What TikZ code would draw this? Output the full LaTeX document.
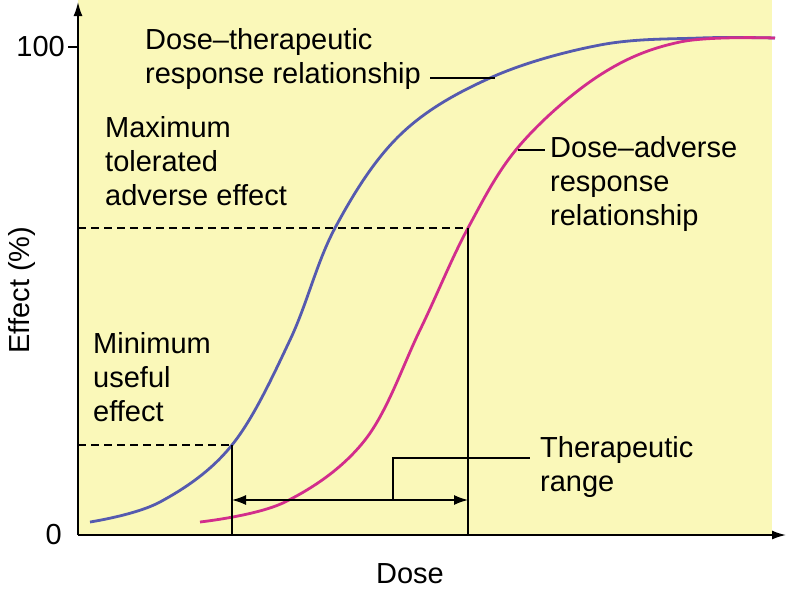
\documentclass[tikz,border=0pt]{standalone}
\usepackage{fontspec}
\setmainfont{Liberation Sans}
\usetikzlibrary{arrows.meta,positioning}
\definecolor{paper}{RGB}{250,248,185}
\definecolor{bluecurve}{RGB}{85,90,175}
\definecolor{pinkcurve}{RGB}{210,45,140}
\tikzset{
   txt/.style = {font=\fontsize{29}{34}\selectfont, align=left, inner sep=0pt},
   axis/.style  = {-{Latex[length=14pt,width=9pt]}, line width=1.6pt},
   guide/.style = {line width=1.2pt, dash pattern=on 8pt off 5pt},
   leader/.style = {line width=1.4pt},
}
\begin{document}
\begin{tikzpicture}[x=1pt,y=-1pt]
   \useasboundingbox (0,0) rectangle (788,592);
   \fill[paper] (78,0) rectangle (772,535);

   % axes
   \coordinate (origin) at (78,535);
   \coordinate (ytop)   at (78,2);
   \coordinate (xend)   at (786,535);
   \draw[axis] (origin) -- (ytop);
   \draw[axis] (origin) -- (xend);
   \draw[line width=1.6pt] (68,47) -- (78,47);
   \node[txt, anchor=east] (ymax) at (65,47) {100};
   \node[txt, anchor=east] (ymin) at (62,535) {0};
   \node[txt, rotate=90] (ytitle) at (22,290) {Effect (\%)};
   \node[txt] (xtitle) at (410,574) {Dose};

   % curves
   \draw[bluecurve, line width=2.8pt] plot[smooth, tension=0.6] coordinates
      {(90,522) (160,502) (232,445) (290,340) (335,228) (400,135) (490,78) (600,45) (700,38) (775,38)};
   \draw[pinkcurve, line width=2.8pt] plot[smooth, tension=0.6] coordinates
      {(200,522) (285,502) (365,440) (420,330) (468,228) (520,145) (600,75) (680,42) (775,38)};

   % guides
   \coordinate (minpt) at (232,445);
   \coordinate (maxpt) at (468,228);
   \draw[guide] (78,445) -- (minpt);
   \draw[guide] (78,228) -- (maxpt);
   \draw[line width=1.4pt] (minpt) -- (232,535);
   \draw[line width=1.4pt] (maxpt) -- (468,535);
   \draw[{Latex[length=14pt,width=10pt]}-{Latex[length=14pt,width=10pt]}, line width=1.4pt] (232,500) -- (468,500);
   \draw[leader] (393,500) -- (393,458) -- (530,458);

   % labels
   \node[txt, anchor=north west] (therapeutic) at (145,28) {Dose–therapeutic\\response relationship};
   \draw[leader] (430,78) -- (495,78);
   \node[txt, anchor=north west] (adverse) at (550,136) {Dose–adverse\\response\\relationship};
   \draw[leader] (518,150) -- (545,150);
   \node[txt, anchor=north west] (maxtol) at (105,116) {Maximum\\tolerated\\adverse effect};
   \node[txt, anchor=north west] (minuse) at (93,332) {Minimum\\useful\\effect};
   \node[txt, anchor=north west] (range) at (540,436) {Therapeutic\\range};
\end{tikzpicture}
\end{document}
